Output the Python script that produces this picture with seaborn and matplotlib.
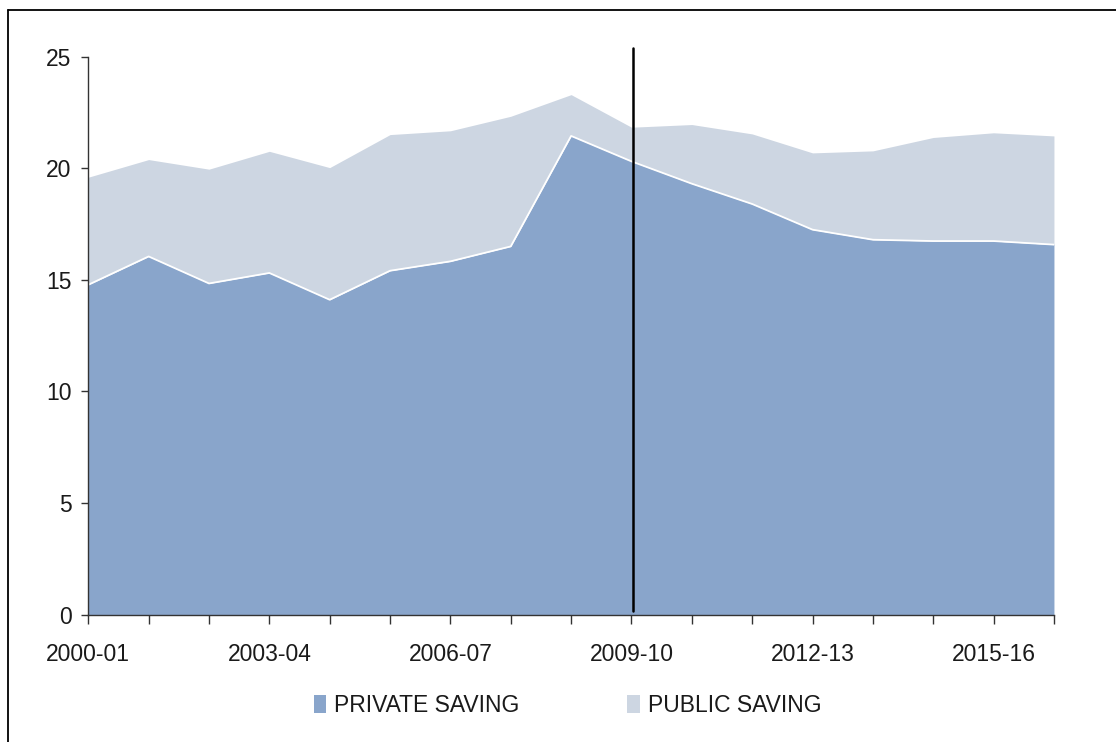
import numpy as np
import pandas as pd
import matplotlib.pyplot as plt
import seaborn as sns
from matplotlib.patches import Patch
from matplotlib.lines import Line2D

years = ['2000-01', '2001-02', '2002-03', '2003-04', '2004-05', '2005-06',
         '2006-07', '2007-08', '2008-09', '2009-10', '2010-11', '2011-12',
         '2012-13', '2013-14', '2014-15', '2015-16', '2016-17']
private = [14.78, 16.05, 14.84, 15.31, 14.11, 15.41, 15.83, 16.50, 21.45,
           20.31, 19.31, 18.40, 17.25, 16.80, 16.74, 16.74, 16.58]
public = [4.82, 4.34, 5.12, 5.45, 5.92, 6.10, 5.85, 5.83, 1.85,
          1.53, 2.65, 3.14, 3.44, 3.98, 4.64, 4.85, 4.87]
tick_labels = ['2000-01', '2003-04', '2006-07', '2009-10', '2012-13', '2015-16']

df = pd.DataFrame({'year': years, 'private': private, 'public': public})
df['x'] = np.arange(len(df))
df['total'] = df['private'] + df['public']

sns.set_style('ticks')
plt.rcParams['font.family'] = ['Liberation Sans', 'DejaVu Sans']
plt.rcParams['text.color'] = '#1a1a1a'

c_priv = '#89a5cb'
c_pub = '#cdd6e2'
fs = 16.5

fig = plt.figure(figsize=(11.16, 7.42), dpi=100)
ax = fig.add_axes([0.0791, 0.1716, 0.9444 - 0.0791, 0.9236 - 0.1716])

ax.fill_between(df['x'], 0, df['private'], color=c_priv, lw=0)
ax.fill_between(df['x'], df['private'], df['total'], color=c_pub, lw=0)
sns.lineplot(data=df, x='x', y='private', color='white', lw=1.3, ax=ax)

# 2009-10 marker line
x_mark = years.index('2009-10')
ax.axvline(x_mark + 0.02, ymin=0.007, ymax=1.016, color='black', lw=1.8, clip_on=False)

ax.set_xlim(0, len(years) - 1)
ax.set_ylim(0, 25)
ax.set_yticks([0, 5, 10, 15, 20, 25])
ax.set_xticks(df['x'])
ax.set_xticklabels([y if y in tick_labels else '' for y in years])
ax.set_xlabel('')
ax.set_ylabel('')
sns.despine(ax=ax)
for s in ['left', 'bottom']:
    ax.spines[s].set_color('#333333')
    ax.spines[s].set_linewidth(1.0)
ax.tick_params(axis='y', length=5, width=1.0, color='#333333', pad=7,
               labelsize=fs, labelcolor='#1a1a1a')
ax.tick_params(axis='x', length=6.5, width=1.0, color='#333333', pad=14,
               labelsize=fs, labelcolor='#1a1a1a')

handles = [Patch(facecolor=c_priv, edgecolor='none', label='PRIVATE SAVING'),
           Patch(facecolor=c_pub, edgecolor='none', label='PUBLIC SAVING')]
fig.legend(handles=handles, loc='center', bbox_to_anchor=(0.5085, 0.049),
           ncol=2, frameon=False, fontsize=fs, handlelength=0.55,
           handleheight=0.85, handletextpad=0.35, columnspacing=4.7)

# outer frame (left and top edges visible)
fig.add_artist(Line2D([8 / 1116, 8 / 1116], [0, 1 - 10 / 742], color='black', lw=1.3))
fig.add_artist(Line2D([8 / 1116, 1], [1 - 10 / 742, 1 - 10 / 742], color='black', lw=1.3))

fig.savefig('out.png', dpi=100)
